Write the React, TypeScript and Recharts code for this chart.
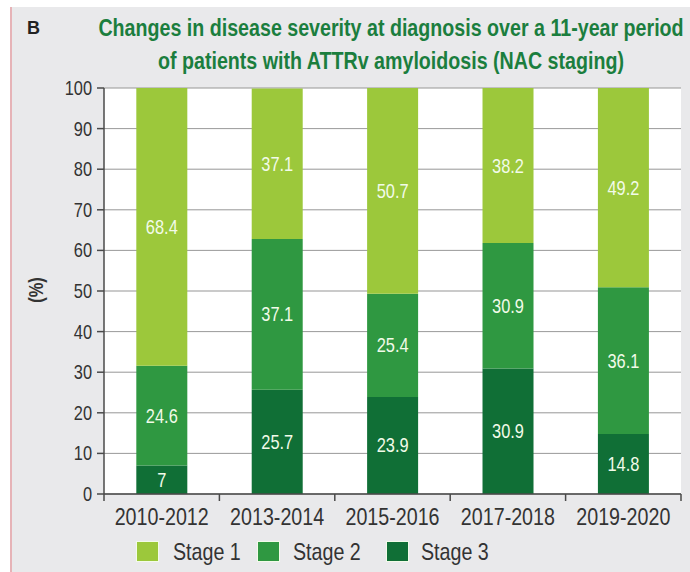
import React from 'react';
import { BarChart, Bar, XAxis, YAxis, CartesianGrid, LabelList, Legend } from 'recharts';

const categories = ['2010-2012', '2013-2014', '2015-2016', '2017-2018', '2019-2020'];
const stage1 = [68.4, 37.1, 50.7, 38.2, 49.2];
const stage2 = [24.6, 37.1, 25.4, 30.9, 36.1];
const stage3 = [7, 25.7, 23.9, 30.9, 14.8];
const yTicks = [0, 10, 20, 30, 40, 50, 60, 70, 80, 90, 100];
const seriesNames = ['Stage 1', 'Stage 2', 'Stage 3'];
const titleLines = [
  'Changes in disease severity at diagnosis over a 11-year period',
  'of patients with ATTRv amyloidosis (NAC staging)',
];

const data = categories.map((c, i) => ({ period: c, s1: stage1[i], s2: stage2[i], s3: stage3[i] }));

const C1 = '#9cc83b';
const C2 = '#2f9841';
const C3 = '#106f36';
const colors = [C1, C2, C3];
const FONT = "'Liberation Sans', Arial, sans-serif";
const SQ = 0.82;
const AXIS = '#4a4a4a';

const NText = (p: any) => {
  const { x, y, anchor = 'start', size, fill = '#333', weight = 'normal', sx = SQ, children } = p;
  return (
    <text
      transform={`translate(${x},${y}) scale(${sx},1)`}
      x={0}
      y={0}
      textAnchor={anchor}
      fontSize={size}
      fontWeight={weight}
      fill={fill}
      fontFamily={FONT}
    >
      {children}
    </text>
  );
};

const XTick = (props: any) => {
  const { x, y, payload, index } = props;
  const off = payload && payload.offset ? payload.offset : 0;
  const axisY = y - 14;
  return (
    <g>
      <line x1={x - off} x2={x - off} y1={axisY} y2={axisY + 7} stroke={AXIS} strokeWidth={1.5} />
      {index === categories.length - 1 && (
        <line x1={x + off} x2={x + off} y1={axisY} y2={axisY + 7} stroke={AXIS} strokeWidth={1.5} />
      )}
      <NText x={x} y={y + 17} anchor="middle" size={24}>{payload.value}</NText>
    </g>
  );
};

const YTick = (props: any) => {
  const { x, y, payload } = props;
  return <NText x={x} y={y + 7} anchor="end" size={20}>{payload.value}</NText>;
};

const SegLabel = (props: any) => {
  const { x, y, width, height, value } = props;
  return (
    <NText x={x + width / 2} y={y + height / 2 + 7} anchor="middle" size={20} fill="#f2fbe9">
      {value}
    </NText>
  );
};

const legendSquares = [137, 258, 387];
const legendTexts = [173, 293, 421];

const LegendContent = () => (
  <svg width={690} height={30} style={{ display: 'block' }}>
    {seriesNames.map((n, i) => (
      <g key={n}>
        <rect x={legendSquares[i] - 1} y={4} width={23} height={21} fill="#f3fbe9" />
        <rect x={legendSquares[i]} y={5} width={21} height={19} fill={colors[i]} />
        <NText x={legendTexts[i]} y={23} size={24}>{n}</NText>
      </g>
    ))}
  </svg>
);

export default function App() {
  return (
    <div style={{ position: 'absolute', left: 0, top: 0, width: 690, height: 572, background: '#fff', overflow: 'hidden' }}>
      <div style={{ position: 'absolute', left: 10, top: 7, right: 0, bottom: 0, background: '#e9e9eb', borderLeft: '2px solid #e6b3b7' }} />
      <div style={{ position: 'absolute', left: 0, top: 0 }}>
        <BarChart width={690} height={572} data={data} margin={{ top: 88, right: 9, left: 0, bottom: 5 }} barCategoryGap="28%">
          <CartesianGrid vertical={false} stroke="#bdbdbd" fill="#ffffff" fillOpacity={1} />
          <YAxis
            type="number"
            domain={[0, 100]}
            ticks={yTicks}
            allowDataOverflow
            width={104}
            tickSize={7}
            tickMargin={5}
            stroke={AXIS}
            strokeWidth={1.5}
            tick={<YTick />}
            interval={0}
          />
          <XAxis
            dataKey="period"
            type="category"
            height={43}
            tickSize={7}
            tickMargin={7}
            tickLine={false}
            stroke={AXIS}
            strokeWidth={1.5}
            tick={<XTick />}
            interval={0}
          />
          <Bar dataKey="s3" stackId="a" fill={C3} isAnimationActive={false} name={seriesNames[2]}>
            <LabelList dataKey="s3" content={<SegLabel />} />
          </Bar>
          <Bar dataKey="s2" stackId="a" fill={C2} isAnimationActive={false} name={seriesNames[1]}>
            <LabelList dataKey="s2" content={<SegLabel />} />
          </Bar>
          <Bar dataKey="s1" stackId="a" fill={C1} isAnimationActive={false} name={seriesNames[0]}>
            <LabelList dataKey="s1" content={<SegLabel />} />
          </Bar>
          <CartesianGrid vertical={false} stroke="rgba(0,0,0,0.18)" fill="none" />
          <Legend verticalAlign="bottom" wrapperStyle={{ left: 0, width: 690, height: 30 }} content={<LegendContent />} />
        </BarChart>
      </div>
      <svg width={690} height={572} style={{ position: 'absolute', left: 0, top: 0, pointerEvents: 'none' }}>
        <text x={27} y={34} fontSize={18} fontWeight="bold" fill="#222" fontFamily={FONT}>B</text>
        <NText x={391} y={36} anchor="middle" size={23} weight="bold" fill="#1b7e3e" sx={0.855}>
          {titleLines[0]}
        </NText>
        <NText x={391} y={69} anchor="middle" size={23} weight="bold" fill="#1b7e3e" sx={0.855}>
          {titleLines[1]}
        </NText>
        <g transform="translate(43,290) rotate(-90)">
          <NText x={0} y={0} anchor="middle" size={20} weight="bold">(%)</NText>
        </g>
      </svg>
    </div>
  );
}
